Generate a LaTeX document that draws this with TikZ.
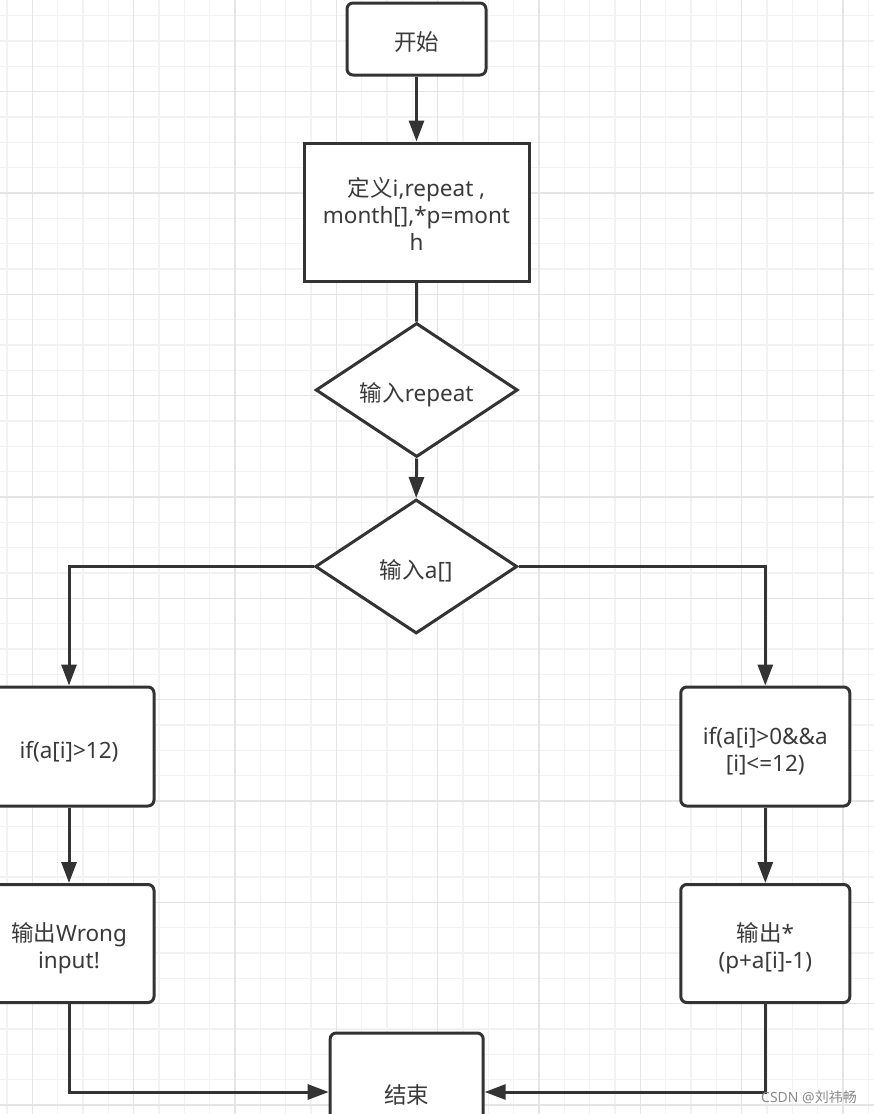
\documentclass[tikz,border=0pt]{standalone}
\usepackage{fontspec}
\setmainfont{Noto Sans}
\newfontfamily\zhfont{Noto Sans CJK SC}
\newcommand{\zh}[1]{{\zhfont #1}}
\newcommand{\mytop}{\rule{0pt}{29pt}}
\newcommand{\mybot}{\rule[-6pt]{0pt}{0pt}}
\usetikzlibrary{shapes.geometric,arrows.meta}
\definecolor{ink}{HTML}{333333}
\definecolor{txt}{HTML}{3A3A3A}
\definecolor{gridminor}{HTML}{F2F2F2}
\definecolor{gridmajor}{HTML}{E5E5E5}
\definecolor{wmark}{HTML}{8A8A8A}
\begin{document}
\begin{tikzpicture}[x=1pt,y=-1pt,
  base/.style={draw=ink, line width=3pt, fill=white, text=txt,
    font=\fontsize{22.5}{26.7}\selectfont, align=center, inner sep=0pt},
  rbox/.style={base, rectangle, rounded corners=6pt},
  sbox/.style={base, rectangle},
  decision/.style={base, diamond, aspect=1.5, minimum width=202pt, minimum height=134pt},
  flow/.style={draw=ink, line width=3pt, -{Triangle[length=21pt,width=15pt]}},
  link/.style={draw=ink, line width=3pt},
  gminor/.style={draw=gridminor, line width=1.5pt},
  gmajor/.style={draw=gridmajor, line width=1.5pt}]
\useasboundingbox (0,0) rectangle (874,1114);
\clip (0,0) rectangle (874,1114);
\fill[white] (0,0) rectangle (874,1114);
% grid
\foreach \k [evaluate=\k as \xx using 6.97+25.333*\k] in {0,...,34}
  \draw[gminor] (\xx,0) -- (\xx,1114);
\foreach \k [evaluate=\k as \yy using 15.7+25.333*\k] in {0,...,43}
  \draw[gminor] (0,\yy) -- (874,\yy);
\foreach \k [evaluate=\k as \xx using 32.3+101.333*\k] in {0,...,8}
  \draw[gmajor] (\xx,0) -- (\xx,1114);
\foreach \k [evaluate=\k as \yy using 91.7+101.333*\k] in {0,...,10}
  \draw[gmajor] (0,\yy) -- (874,\yy);
% nodes
\node[rbox, minimum width=139pt, minimum height=72pt] (start) at (416.5,39) {\mytop\zh{开始}\mybot};
\node[sbox, minimum width=225pt, minimum height=138pt] (def) at (416.5,212)
  {\mytop\zh{定义}i,repeat ,\\month[],*p=mont\\h\mybot};
\node[decision] (d1) at (416.7,390) {\mytop\zh{输入}repeat\mybot};
\node[decision] (d2) at (416.2,566.5) {\mytop\zh{输入}a[]\mybot};
\node[rbox, minimum width=170pt, minimum height=119pt] (c1) at (69,746.5) {\mytop if(a[i]>12)\mybot};
\node[rbox, minimum width=170pt, minimum height=118pt] (o1) at (69,943.5) {\mytop\zh{输出}Wrong\\input!\mybot};
\node[rbox, minimum width=169pt, minimum height=119pt] (c2) at (765.3,746.5) {\mytop if(a[i]>0\&\&a\\{}[i]<=12)\mybot};
\node[rbox, minimum width=169pt, minimum height=118pt] (o2) at (765.3,943.5) {\mytop\zh{输出}*\\(p+a[i]-1)\mybot};
\node[rbox, minimum width=153pt, minimum height=118pt] (end) at (406.7,1092) {\mytop\zh{结束}\mybot};
% connectors
\draw[flow] (start.south) -- (def.north);
\draw[link] (def.south) -- (d1.north);
\draw[flow] (d1.south) -- (d2.north);
\draw[flow] (d2.west) -| (c1.north);
\draw[flow] (d2.east) -| (c2.north);
\draw[flow] (c1.south) -- (o1.north);
\draw[flow] (c2.south) -- (o2.north);
\draw[flow] (o1.south) |- (end.west);
\draw[flow] (o2.south) |- (end.east);
% watermark
\node[text=wmark, font=\fontsize{14}{14}\selectfont, inner sep=0pt] (wm) at (809,1097) {CSDN @\zh{刘祎畅}};
\end{tikzpicture}
\end{document}
